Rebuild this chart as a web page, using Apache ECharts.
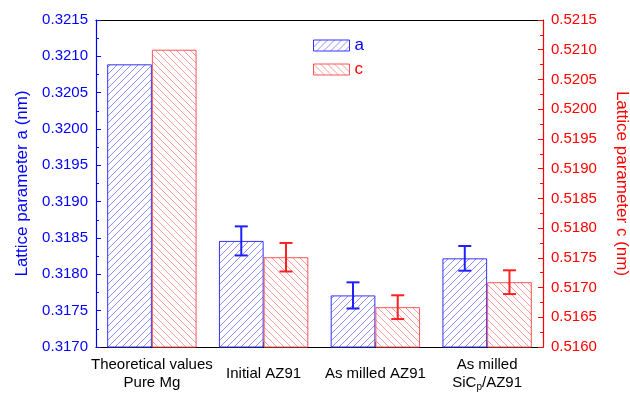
<!DOCTYPE html>
<html><head><meta charset="utf-8">
<script src="https://cdn.jsdelivr.net/npm/echarts@6/dist/echarts.min.js"></script>
<style>html,body{margin:0;padding:0;background:#fff}#c{width:630px;height:394px}</style>
</head><body><div id="c"></div>
<script>
const categories = ['Theoretical values\nPure Mg', 'Initial AZ91', 'As milled AZ91', 'As milled\nSiC{s|p}/AZ91'];
const valuesA = [0.32089, 0.31846, 0.31771, 0.31822];
const errorsA = [null, 0.00020, 0.00018, 0.00017];
const valuesC = [0.52100, 0.51751, 0.51667, 0.51709];
const errorsC = [null, 0.00024, 0.00020, 0.00020];
const ticksA = {min: 0.3170, max: 0.3215, interval: 0.0005};
const ticksC = {min: 0.5160, max: 0.5215, interval: 0.0005};

function hatch(color, dir) {
  const s = 7;
  const cv = document.createElement('canvas');
  cv.width = s; cv.height = s;
  const g = cv.getContext('2d');
  g.fillStyle = '#fff'; g.fillRect(0, 0, s, s);
  g.strokeStyle = color; g.lineWidth = 1;
  g.beginPath();
  if (dir === '/') {
    g.moveTo(-1, s + 1); g.lineTo(s + 1, -1);
    g.moveTo(-1, 1); g.lineTo(1, -1);
    g.moveTo(s - 1, s + 1); g.lineTo(s + 1, s - 1);
  } else {
    g.moveTo(-1, -1); g.lineTo(s + 1, s + 1);
    g.moveTo(s - 1, -1); g.lineTo(s + 1, 1);
    g.moveTo(-1, s - 1); g.lineTo(1, s + 1);
  }
  g.stroke();
  return {image: cv, repeat: 'repeat'};
}

const FONT = 'Liberation Sans, Arial, sans-serif';
const chart = echarts.init(document.getElementById('c'));

function errSeries(name, vals, errs, yIdx, offset, color) {
  return {
    type: 'custom', name: name + '_err', yAxisIndex: yIdx, silent: true, z: 5,
    data: vals.map((v, i) => [i, v, errs[i]]),
    renderItem: function (params, api) {
      const e = api.value(2);
      if (e == null || isNaN(e)) return null;
      const i = api.value(0), v = api.value(1);
      const cw = api.size([1, 0])[0];
      const top = api.coord([i, v + e]);
      const bot = api.coord([i, v - e]);
      const x = top[0] + offset * cw;
      const hw = 6.5;
      const st = {stroke: color, lineWidth: 2};
      return {type: 'group', children: [
        {type: 'line', shape: {x1: x, y1: top[1], x2: x, y2: bot[1]}, style: st},
        {type: 'line', shape: {x1: x - hw, y1: top[1], x2: x + hw, y2: top[1]}, style: st},
        {type: 'line', shape: {x1: x - hw, y1: bot[1], x2: x + hw, y2: bot[1]}, style: st}
      ]};
    }
  };
}

chart.setOption({
  animation: false,
  textStyle: {fontFamily: FONT},
  grid: {left: 96, right: 87, top: 20, bottom: 47, containLabel: false, outerBoundsMode: 'none'},
  legend: {
    orient: 'vertical', left: 308, top: 32, itemWidth: 36, itemHeight: 11, itemGap: 7,
    icon: 'rect',
    data: [{name: 'a', textStyle: {color: '#0000ff'}}, {name: 'c', textStyle: {color: '#ff0000'}}],
    textStyle: {fontSize: 17, fontFamily: FONT},
    itemStyle: {borderWidth: 1},
    selectedMode: false
  },
  xAxis: [{
    type: 'category', data: categories,
    axisLine: {lineStyle: {color: '#000', width: 1.2}},
    axisTick: {show: true, inside: true, alignWithLabel: true, length: 5, lineStyle: {color: '#000'}},
    axisLabel: {interval: 0, color: '#000', fontSize: 15, fontFamily: FONT, verticalAlign: 'middle', margin: 27, lineHeight: 18,
      rich: {s: {fontSize: 10, verticalAlign: 'bottom', padding: [8, 0, 0, 0], fontFamily: FONT, color: '#000'}}},
    splitLine: {show: false}
  }, {
    type: 'category', position: 'top', data: categories,
    axisLine: {lineStyle: {color: '#000', width: 1.2}},
    axisTick: {show: false}, axisLabel: {show: false}
  }],
  yAxis: [{
    type: 'value', position: 'left', min: ticksA.min, max: ticksA.max, interval: ticksA.interval,
    name: 'Lattice parameter a (nm)', nameLocation: 'middle', nameGap: 64,
    nameTextStyle: {color: '#0000ff', fontSize: 17, fontFamily: FONT},
    axisLine: {show: true, lineStyle: {color: '#0000ff', width: 1.2}},
    axisTick: {show: true, inside: true, length: 5, lineStyle: {color: '#0000ff'}},
    minorTick: {show: true, splitNumber: 2, length: 3, lineStyle: {color: '#0000ff'}},
    axisLabel: {color: '#0000ff', fontSize: 15, margin: 8, fontFamily: FONT, formatter: v => v.toFixed(4)},
    splitLine: {show: false}
  }, {
    type: 'value', position: 'right', min: ticksC.min, max: ticksC.max, interval: ticksC.interval,
    name: 'Lattice parameter c (nm)', nameLocation: 'middle', nameGap: 70, nameRotate: -90,
    nameTextStyle: {color: '#ff0000', fontSize: 17, fontFamily: FONT},
    axisLine: {show: true, lineStyle: {color: '#ff0000', width: 1.2}},
    axisTick: {show: true, inside: true, length: 5, lineStyle: {color: '#ff0000'}},
    minorTick: {show: true, splitNumber: 2, length: 3, lineStyle: {color: '#ff0000'}},
    axisLabel: {color: '#ff0000', fontSize: 15, margin: 8, fontFamily: FONT, formatter: v => v.toFixed(4)},
    splitLine: {show: false}
  }],
  series: [{
    name: 'a', type: 'bar', yAxisIndex: 0, data: valuesA, barWidth: '40%', barGap: '0%',
    itemStyle: {color: hatch('#8f8fff', '/'), borderColor: '#3333ff', borderWidth: 1}
  }, {
    name: 'c', type: 'bar', yAxisIndex: 1, data: valuesC, barWidth: '40%', barGap: '0%',
    itemStyle: {color: hatch('#ff9a9a', '\\'), borderColor: '#ff5555', borderWidth: 1}
  },
  errSeries('a', valuesA, errorsA, 0, -0.2, '#2020ff'),
  errSeries('c', valuesC, errorsC, 1, 0.2, '#ff2020')]
});
</script></body></html>
